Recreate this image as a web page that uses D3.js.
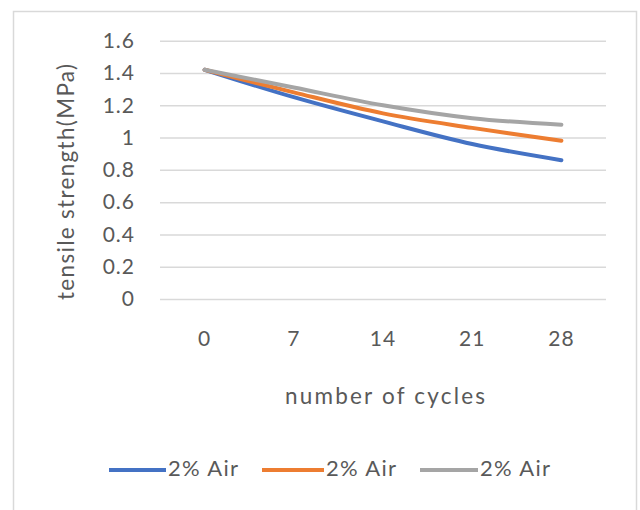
<!DOCTYPE html>
<html>
<head>
<meta charset="utf-8">
<script src="https://cdn.jsdelivr.net/npm/d3@7"></script>
<style>
  html, body { margin: 0; padding: 0; background: #ffffff; }
  svg { display: block; }
  text { font-family: Lato, "Open Sans", sans-serif; fill: #595959; }
</style>
</head>
<body>
<svg id="chart" width="640" height="510"></svg>
<script>
// Tensile strength after freeze–thaw cycles
const cycles = ["0", "7", "14", "21", "28"];
const seriesNames = ["2% Air", "2% Air", "2% Air"];
const seriesColors = ["#4472C4", "#ED7D31", "#A5A5A5"];
const blueValues = [1.42, 1.25, 1.10, 0.96, 0.86];
const orangeValues = [1.42, 1.28, 1.15, 1.06, 0.98];
const grayValues = [1.42, 1.31, 1.20, 1.12, 1.08];
const yTicks = [0, 0.2, 0.4, 0.6, 0.8, 1, 1.2, 1.4, 1.6];
const xTitle = "number of cycles";
const yTitle = "tensile strength(MPa)";

const series = [blueValues, orangeValues, grayValues].map((vals, i) => ({
  name: seriesNames[i],
  color: seriesColors[i],
  values: vals
}));

const svg = d3.select("#chart");

// chart frame
svg.append("rect")
  .attr("x", 13.5).attr("y", 11.5)
  .attr("width", 623).attr("height", 520)
  .attr("fill", "#ffffff")
  .attr("stroke", "#d9d9d9")
  .attr("stroke-width", 1.5);

const plot = { left: 160, right: 606, top: 40.7, bottom: 299 };

const x = d3.scaleBand()
  .domain(cycles)
  .range([plot.left, plot.right]);

const y = d3.scaleLinear()
  .domain([0, 1.6])
  .range([plot.bottom, plot.top]);

// horizontal gridlines with value labels
const yAxis = d3.axisLeft(y)
  .tickValues(yTicks)
  .tickFormat(d => d3.format("")(+d.toFixed(1)))
  .tickSize(-(plot.right - plot.left))
  .tickPadding(25);

const gy = svg.append("g")
  .attr("transform", `translate(${plot.left},0)`)
  .call(yAxis);
gy.select(".domain").remove();
gy.selectAll(".tick line")
  .attr("stroke", "#d9d9d9")
  .attr("stroke-width", 1.5);
gy.selectAll(".tick text")
  .attr("font-size", 21)
  .attr("letter-spacing", 1)
  .attr("fill", "#595959")
  .style("font-family", "Lato, sans-serif");

// category labels
const xAxis = d3.axisBottom(x).tickSize(0).tickPadding(32);
const gx = svg.append("g")
  .attr("transform", `translate(0,${plot.bottom})`)
  .call(xAxis);
gx.select(".domain").remove();
gx.selectAll(".tick text")
  .attr("font-size", 21)
  .attr("letter-spacing", 1)
  .attr("fill", "#595959")
  .style("font-family", "Lato, sans-serif");

// series lines, smoothed
const line = d3.line()
  .x((d, i) => x(cycles[i]) + x.bandwidth() / 2)
  .y(d => y(d))
  .curve(d3.curveCatmullRom.alpha(0.5));

svg.append("g")
  .selectAll("path")
  .data(series)
  .join("path")
  .attr("d", d => line(d.values))
  .attr("fill", "none")
  .attr("stroke", d => d.color)
  .attr("stroke-width", 4)
  .attr("stroke-linecap", "round")
  .attr("stroke-linejoin", "round");

// axis titles
svg.append("text")
  .attr("x", (plot.left + plot.right) / 2 + 2)
  .attr("y", 398)
  .attr("text-anchor", "middle")
  .attr("dominant-baseline", "middle")
  .attr("font-size", 22.5)
  .attr("textLength", 200)
  .attr("lengthAdjust", "spacing")
  .text(xTitle);

svg.append("text")
  .attr("transform", `translate(68,182) rotate(-90)`)
  .attr("text-anchor", "middle")
  .attr("dominant-baseline", "middle")
  .attr("font-size", 22.5)
  .attr("textLength", 236)
  .attr("lengthAdjust", "spacing")
  .text(yTitle);

// legend
const legendItems = [
  { lx: 109, tx: 168 },
  { lx: 262, tx: 326 },
  { lx: 420, tx: 480 }
];
const legend = svg.append("g");
series.forEach((s, i) => {
  const pos = legendItems[i];
  legend.append("line")
    .attr("x1", pos.lx).attr("x2", pos.tx - 2)
    .attr("y1", 470).attr("y2", 470)
    .attr("stroke", s.color)
    .attr("stroke-width", 4);
  legend.append("text")
    .attr("x", pos.tx)
    .attr("y", 470)
    .attr("dominant-baseline", "middle")
    .attr("font-size", 22)
    .attr("textLength", 70)
    .attr("lengthAdjust", "spacing")
    .text(s.name);
});
</script>
</body>
</html>
